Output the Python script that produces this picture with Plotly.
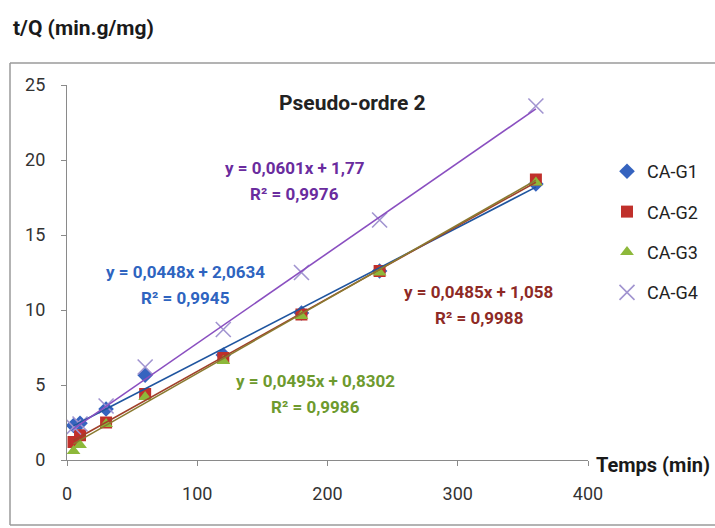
import plotly.graph_objects as go

# Data
temps = [5, 10, 30, 60, 120, 180, 240, 360]
series_names = ["CA-G1", "CA-G2", "CA-G3", "CA-G4"]
g1 = [2.3, 2.45, 3.4, 5.65, 7.0, 9.8, 12.6, 18.4]
g2 = [1.2, 1.65, 2.5, 4.4, 6.8, 9.7, 12.6, 18.7]
g3 = [0.6, 1.0, 2.4, 4.2, 6.6, 9.6, 12.5, 18.5]
g4 = [2.2, 2.4, 3.6, 6.2, 8.7, 12.5, 16.0, 23.6]
slopes = [0.0448, 0.0485, 0.0495, 0.0601]
intercepts = [2.0634, 1.058, 0.8302, 1.77]
eq_lines = ["y = 0,0448x + 2,0634", "y = 0,0485x + 1,058",
            "y = 0,0495x + 0,8302", "y = 0,0601x + 1,77"]
r2_lines = ["R² = 0,9945", "R² = 0,9988", "R² = 0,9986", "R² = 0,9976"]
x_ticks = [0, 100, 200, 300, 400]
y_ticks = [0, 5, 10, 15, 20, 25]

FONT = "Roboto, Arial"

marker_colors = ["#3563BF", "#C0302B", "#8DB83A", "#A194D0"]
marker_symbols = ["diamond", "square", "triangle-up", "x-thin-open"]
marker_sizes = [12, 12, 12, 15]
trend_colors = ["#1F559F", "#A0402A", "#8A7A30", "#8A4FC0"]
text_colors = ["#2E64C0", "#8E2A25", "#6E9A2E", "#6A2C9E"]

fig = go.Figure()
all_y = [g1, g2, g3, g4]
for i, (name, ys) in enumerate(zip(series_names, all_y)):
    if marker_symbols[i] == "x-thin-open":
        mk = dict(symbol=marker_symbols[i], size=marker_sizes[i],
                  line=dict(color=marker_colors[i], width=1.6), color=marker_colors[i])
    else:
        mk = dict(symbol=marker_symbols[i], size=marker_sizes[i], color=marker_colors[i],
                  line=dict(width=0))
    fig.add_trace(go.Scatter(x=temps, y=ys, mode="markers", name=name,
                             marker=mk, legendgroup=name))

for i, name in enumerate(series_names):
    xs = [min(temps), max(temps)]
    ys = [slopes[i] * x + intercepts[i] for x in xs]
    fig.add_trace(go.Scatter(x=xs, y=ys, mode="lines", showlegend=False,
                             line=dict(color=trend_colors[i], width=1.6),
                             hoverinfo="skip"))

# equation annotations: (x, y of first line) in data coords; R² line 1.75 units lower
eq_pos = [(91, 12.55), (316, 11.2), (191, 5.3), (175, 19.5)]
for i in range(4):
    fig.add_annotation(x=eq_pos[i][0], y=eq_pos[i][1], text="<b>" + eq_lines[i] + "</b>",
                       showarrow=False, font=dict(family=FONT, size=17, color=text_colors[i]),
                       xanchor="center", yanchor="middle")
    fig.add_annotation(x=eq_pos[i][0], y=eq_pos[i][1] - 1.75, text="<b>" + r2_lines[i] + "</b>",
                       showarrow=False, font=dict(family=FONT, size=17, color=text_colors[i]),
                       xanchor="center", yanchor="middle")

fig.add_annotation(x=219, y=23.8, text="<b>Pseudo-ordre 2</b>", showarrow=False,
                   font=dict(family=FONT, size=21, color="#222222"))
fig.add_annotation(xref="paper", yref="paper", x=(594 - 67) / 521, y=(460 - 465) / 375,
                   text="<b>Temps (min)</b>", showarrow=False, xanchor="left", yanchor="middle",
                   font=dict(family=FONT, size=20, color="#1A1A1A"))
fig.add_annotation(xref="paper", yref="paper", x=(11 - 67) / 521, y=(460 - 28) / 375,
                   text="<b>t/Q (min.g/mg)</b>", showarrow=False, xanchor="left", yanchor="middle",
                   font=dict(family=FONT, size=21, color="#1A1A1A"))

# outer border (top, left, bottom edges; right edge lies outside the picture)
bx0, bx1 = (10 - 67) / 521, (715 - 67) / 521
by0, by1 = (460 - 525) / 375, (460 - 63) / 375
border = dict(color="#9A9A9A", width=1.5)
fig.add_shape(type="line", xref="paper", yref="paper", x0=bx0, x1=bx1, y0=by1, y1=by1, line=border)
fig.add_shape(type="line", xref="paper", yref="paper", x0=bx0, x1=bx0, y0=by0, y1=by1, line=border)
fig.add_shape(type="line", xref="paper", yref="paper", x0=bx0, x1=bx1, y0=by0, y1=by0, line=border)

fig.update_layout(
    width=715, height=528,
    margin=dict(l=67, r=127, t=85, b=68, autoexpand=False),
    paper_bgcolor="white", plot_bgcolor="white",
    font=dict(family=FONT, size=15, color="#333333"),
    showlegend=True,
    legend=dict(x=(607 - 67) / 521, y=(460 - 153) / 375, xanchor="left", yanchor="top",
                font=dict(family=FONT, size=18, color="#222222"),
                tracegroupgap=14, bgcolor="rgba(0,0,0,0)", itemwidth=30),
    xaxis=dict(range=[0, 400], tickvals=x_ticks, showgrid=False, zeroline=False,
               showline=True, linecolor="#8A8A8A", linewidth=1.3,
               ticks="outside", ticklen=5, tickcolor="#8A8A8A", ticklabelstandoff=12,
               tickfont=dict(family=FONT, size=18, color="#333333")),
    yaxis=dict(range=[0, 25], tickvals=y_ticks, showgrid=False, zeroline=False,
               showline=True, linecolor="#8A8A8A", linewidth=1.3,
               ticks="outside", ticklen=5, tickcolor="#8A8A8A", ticklabelstandoff=12,
               tickfont=dict(family=FONT, size=18, color="#333333")),
)

fig.write_html("out.html")
